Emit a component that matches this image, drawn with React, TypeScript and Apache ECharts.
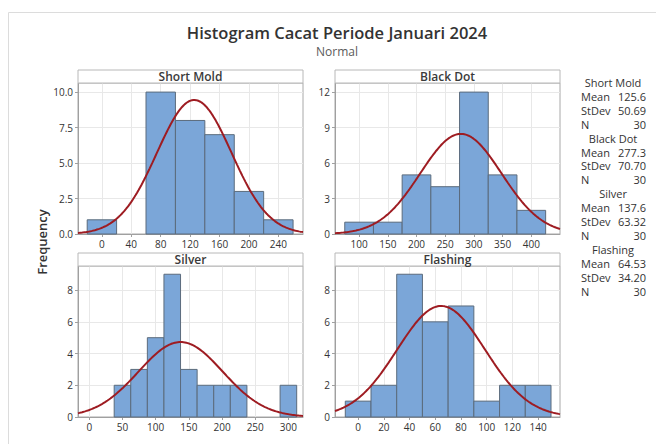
import React, { useEffect, useRef } from "react";
import * as echarts from "echarts";

const PANEL_NAMES = ["Short Mold", "Black Dot", "Silver", "Flashing"];

const SM_EDGES = [-20, 20, 60, 100, 140, 180, 220, 260];
const SM_COUNTS = [1, 0, 10, 8, 7, 3, 1];
const BD_EDGES = [75, 125, 175, 225, 275, 325, 375, 425];
const BD_COUNTS = [1, 1, 5, 4, 12, 5, 2];
const SV_EDGES = [37.5, 62.5, 87.5, 112.5, 137.5, 162.5, 187.5, 212.5, 237.5, 262.5, 287.5, 312.5];
const SV_COUNTS = [2, 3, 5, 9, 3, 2, 2, 2, 0, 0, 2];
const FL_EDGES = [-10, 10, 30, 50, 70, 90, 110, 130, 150];
const FL_COUNTS = [1, 2, 9, 6, 7, 1, 2, 2];

const MEANS = [125.6, 277.3, 137.6, 64.53];
const STDEVS = [50.69, 70.7, 63.32, 34.2];
const NS = [30, 30, 30, 30];
const MEAN_LABELS = ["125.6", "277.3", "137.6", "64.53"];
const STDEV_LABELS = ["50.69", "70.70", "63.32", "34.20"];

const SM_XTICKS = [0, 40, 80, 120, 160, 200, 240];
const BD_XTICKS = [100, 150, 200, 250, 300, 350, 400];
const SV_XTICKS = [0, 50, 100, 150, 200, 250, 300];
const FL_XTICKS = [0, 20, 40, 60, 80, 100, 120, 140];

const SM_YTICKS = [0, 2.5, 5, 7.5, 10];
const BD_YTICKS = [0, 3, 6, 9, 12];
const SV_YTICKS = [0, 2, 4, 6, 8];
const FL_YTICKS = [0, 2, 4, 6, 8];

const X_RANGES = [
  [-32.5, 273.5],
  [58, 450],
  [-17, 322],
  [-18, 157],
];
const Y_MAXES = [10.64, 12.77, 9.52, 9.52];

const FONT = "'Open Sans', 'Noto Sans', sans-serif";
const BAR_FILL = "#7ba6d8";
const BAR_STROKE = "#5b6b7c";
const CURVE = "#9e1c22";
const TEXT = "#333333";

const GRIDS = [
  { left: 78, top: 83, width: 225, height: 151 },
  { left: 335, top: 83, width: 225, height: 151 },
  { left: 78, top: 266, width: 225, height: 151 },
  { left: 335, top: 266, width: 225, height: 151 },
];
const STRIP_H = 13;

export default function App() {
  const ref = useRef<HTMLDivElement>(null);

  useEffect(() => {
    document.body.style.margin = "0";
    if (!ref.current) return;
    const chart = echarts.init(ref.current, null, { renderer: "svg" });

    const edgesList = [SM_EDGES, BD_EDGES, SV_EDGES, FL_EDGES];
    const countsList = [SM_COUNTS, BD_COUNTS, SV_COUNTS, FL_COUNTS];
    const xTicksList = [SM_XTICKS, BD_XTICKS, SV_XTICKS, FL_XTICKS];
    const yTicksList = [SM_YTICKS, BD_YTICKS, SV_YTICKS, FL_YTICKS];

    const grids: any[] = [];
    const xAxes: any[] = [];
    const yAxes: any[] = [];
    const series: any[] = [];
    const graphics: any[] = [];

    for (let i = 0; i < 4; i++) {
      const g = GRIDS[i];
      grids.push({
        left: g.left,
        top: g.top,
        width: g.width,
        height: g.height,
        show: true,
        borderColor: "#a8a8a8",
        borderWidth: 1,
        backgroundColor: "#ffffff",
      });
      const xt = xTicksList[i];
      xAxes.push({
        type: "value",
        gridIndex: i,
        min: X_RANGES[i][0],
        max: X_RANGES[i][1],
        axisLine: { show: true, onZero: false, lineStyle: { color: "#a0a0a0" } },
        axisTick: { show: true, length: 3, customValues: xt, lineStyle: { color: "#a0a0a0" } },
        axisLabel: {
          customValues: xt,
          color: TEXT,
          fontSize: 10,
          fontFamily: FONT,
          margin: 5,
        },
        splitLine: { show: true, lineStyle: { color: "#e8e8e8", width: 1 } },
      });
      const yt = yTicksList[i];
      const decimals = i === 0;
      yAxes.push({
        type: "value",
        gridIndex: i,
        min: 0,
        max: Y_MAXES[i],
        axisLine: { show: true, onZero: false, lineStyle: { color: "#a0a0a0" } },
        axisTick: { show: true, length: 3, customValues: yt, lineStyle: { color: "#a0a0a0" } },
        axisLabel: {
          customValues: yt,
          color: TEXT,
          fontSize: 10,
          fontFamily: FONT,
          margin: 5,
          formatter: (v: number) => (decimals ? v.toFixed(1) : String(v)),
        },
        splitLine: { show: true, lineStyle: { color: "#e8e8e8", width: 1 } },
      });

      const edges = edgesList[i];
      const counts = countsList[i];
      const barData = counts.map((c, k) => [edges[k], edges[k + 1], c]);
      series.push({
        type: "custom",
        xAxisIndex: i,
        yAxisIndex: i,
        data: barData,
        encode: { x: [0, 1], y: 2 },
        renderItem: (params: any, api: any) => {
          const x0 = api.value(0);
          const x1 = api.value(1);
          const c = api.value(2);
          if (c <= 0) return null;
          const p0 = api.coord([x0, c]);
          const p1 = api.coord([x1, 0]);
          return {
            type: "rect",
            shape: { x: p0[0], y: p0[1], width: p1[0] - p0[0], height: p1[1] - p0[1] },
            style: { fill: BAR_FILL, stroke: BAR_STROKE, lineWidth: 1 },
          };
        },
        z: 2,
      });

      // fitted normal curve from the displayed mean / stdev
      const binW = edges[1] - edges[0];
      const mu = MEANS[i];
      const sd = STDEVS[i];
      const n = NS[i];
      const [xa, xb] = X_RANGES[i];
      const pts: number[][] = [];
      const steps = 160;
      for (let s = 0; s <= steps; s++) {
        const x = xa + ((xb - xa) * s) / steps;
        const z = (x - mu) / sd;
        const y = (n * binW * Math.exp(-0.5 * z * z)) / (sd * Math.sqrt(2 * Math.PI));
        pts.push([x, y]);
      }
      series.push({
        type: "line",
        xAxisIndex: i,
        yAxisIndex: i,
        data: pts,
        showSymbol: false,
        symbol: "none",
        smooth: false,
        clip: true,
        lineStyle: { color: CURVE, width: 2 },
        z: 3,
      });

      // strip header
      graphics.push({
        type: "rect",
        shape: { x: g.left, y: g.top - STRIP_H, width: g.width, height: STRIP_H },
        style: { fill: "#ffffff", stroke: "#b8b8b8", lineWidth: 1 },
        z: 10,
      });
      graphics.push({
        type: "text",
        x: g.left + g.width / 2,
        y: g.top - STRIP_H / 2,
        style: {
          text: PANEL_NAMES[i],
          fill: "#3a3a3a",
          font: `600 12px ${FONT}`,
          textAlign: "center",
          textVerticalAlign: "middle",
        },
        z: 11,
      });
    }

    // outer frame
    graphics.push({
      type: "rect",
      shape: { x: 8.5, y: 12.5, width: 700, height: 500 },
      style: { fill: "none", stroke: "#dcdcdc", lineWidth: 1 },
      z: 0,
    });

    // stats legend
    const STEP = 13.9;
    for (let i = 0; i < 4; i++) {
      const y0 = 82.5 + STEP * 4 * i;
      graphics.push({
        type: "text",
        x: 613,
        y: y0,
        style: { text: PANEL_NAMES[i], fill: TEXT, font: `11px ${FONT}`, textAlign: "center", textVerticalAlign: "middle" },
      });
      const rows = [
        ["Mean", MEAN_LABELS[i]],
        ["StDev", STDEV_LABELS[i]],
        ["N", String(NS[i])],
      ];
      rows.forEach((r, k) => {
        const yy = y0 + STEP * (k + 1);
        graphics.push({
          type: "text",
          x: 581,
          y: yy,
          style: { text: r[0], fill: TEXT, font: `11px ${FONT}`, textAlign: "left", textVerticalAlign: "middle" },
        });
        graphics.push({
          type: "text",
          x: 646,
          y: yy,
          style: { text: r[1], fill: TEXT, font: `11px ${FONT}`, textAlign: "right", textVerticalAlign: "middle" },
        });
      });
    }

    // y axis label
    graphics.push({
      type: "text",
      x: 42,
      y: 242,
      rotation: Math.PI / 2,
      style: { text: "Frequency", fill: TEXT, font: `600 13px ${FONT}`, textAlign: "center", textVerticalAlign: "middle" },
    });

    // titles
    graphics.push({
      type: "text",
      x: 337,
      y: 32,
      style: {
        text: "Histogram Cacat Periode Januari 2024",
        fill: "#333333",
        font: `600 16.5px ${FONT}`,
        textAlign: "center",
        textVerticalAlign: "middle",
      },
    });
    graphics.push({
      type: "text",
      x: 337,
      y: 51.5,
      style: {
        text: "Normal",
        fill: "#5a5a5a",
        font: `12px ${FONT}`,
        textAlign: "center",
        textVerticalAlign: "middle",
      },
    });

    chart.setOption({
      animation: false,
      backgroundColor: "#ffffff",
      grid: grids,
      xAxis: xAxes,
      yAxis: yAxes,
      series,
      graphic: graphics,
    });

    return () => chart.dispose();
  }, []);

  return <div ref={ref} style={{ width: 656, height: 444 }} />;
}
